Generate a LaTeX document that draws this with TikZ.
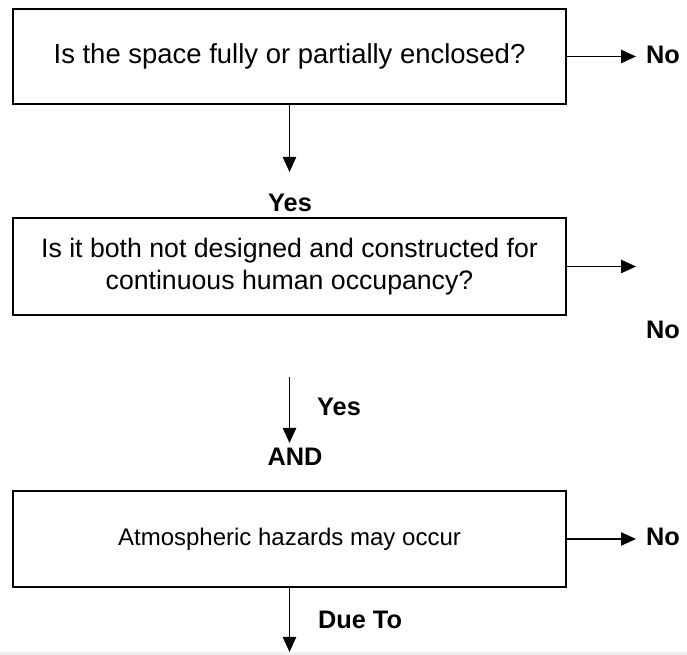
\documentclass[tikz,border=0pt]{standalone}
\usepackage{fontspec}
\setmainfont{Liberation Sans}
\usetikzlibrary{arrows.meta}

\tikzset{every picture/.style={line width=0.75pt}}
\tikzset{
  qbox/.style={draw, line width=1.6pt, minimum width=414.75pt, inner sep=0pt, align=center,
    font=\fontsize{20}{23.5}\selectfont},
  lbl/.style={inner sep=0.75pt, font=\fontsize{19}{22}\selectfont\bfseries},
  arr/.style={line width=1pt, -{Triangle[length=11.25pt,width=10pt]}}
}

\begin{document}
\begin{tikzpicture}[x=0.75pt,y=0.75pt,yscale=-1,xscale=1]
\useasboundingbox (0,0) rectangle (687,655);
%page edge
\fill [gray!12] (0,652) rectangle (687,655);

%Shape: Rectangle [box1]
\node [qbox, minimum height=71.25pt, font=\fontsize{20.6}{24}\selectfont] (box1) at (289.5,56.5) {Is the space fully or partially enclosed?};
%Shape: Rectangle [box2]
\node [qbox, minimum height=72.75pt] (box2) at (289.5,266.5) {Is it both not designed and constructed for\\continuous human occupancy?};
%Shape: Rectangle [box3]
\node [qbox, minimum height=72pt, font=\fontsize{18}{21}\selectfont] (box3) at (289.5,539) {Atmospheric hazards may occur};

% arrow ends
\coordinate (n1) at (636,56.5);
\coordinate (n2) at (636,266.5);
\coordinate (n3) at (636,539);
\coordinate (d1) at (289.5,172);
\coordinate (d2a) at (289.5,377);
\coordinate (d2b) at (289.5,443);
\coordinate (d3) at (289.5,652);

%Straight Lines
\draw [arr] (box1.east) -- (n1);
\draw [arr] (box1.south) -- (d1);
\draw [arr] (box2.east) -- (n2);
\draw [arr] (d2a) -- (d2b);
\draw [arr] (box3.east) -- (n3);
\draw [arr] (box3.south) -- (d3);

% Text Node
\node [lbl] (no1) at (663,55) {No};
% Text Node
\node [lbl] (yes1) at (290,203) {Yes};
% Text Node
\node [lbl] (no2) at (663,330) {No};
% Text Node
\node [lbl] (yes2) at (339,407) {Yes};
% Text Node
\node [lbl] (and) at (295,457) {AND};
% Text Node
\node [lbl] (no3) at (663,537) {No};
% Text Node
\node [lbl] (dueto) at (360,620) {Due To};

\end{tikzpicture}
\end{document}
